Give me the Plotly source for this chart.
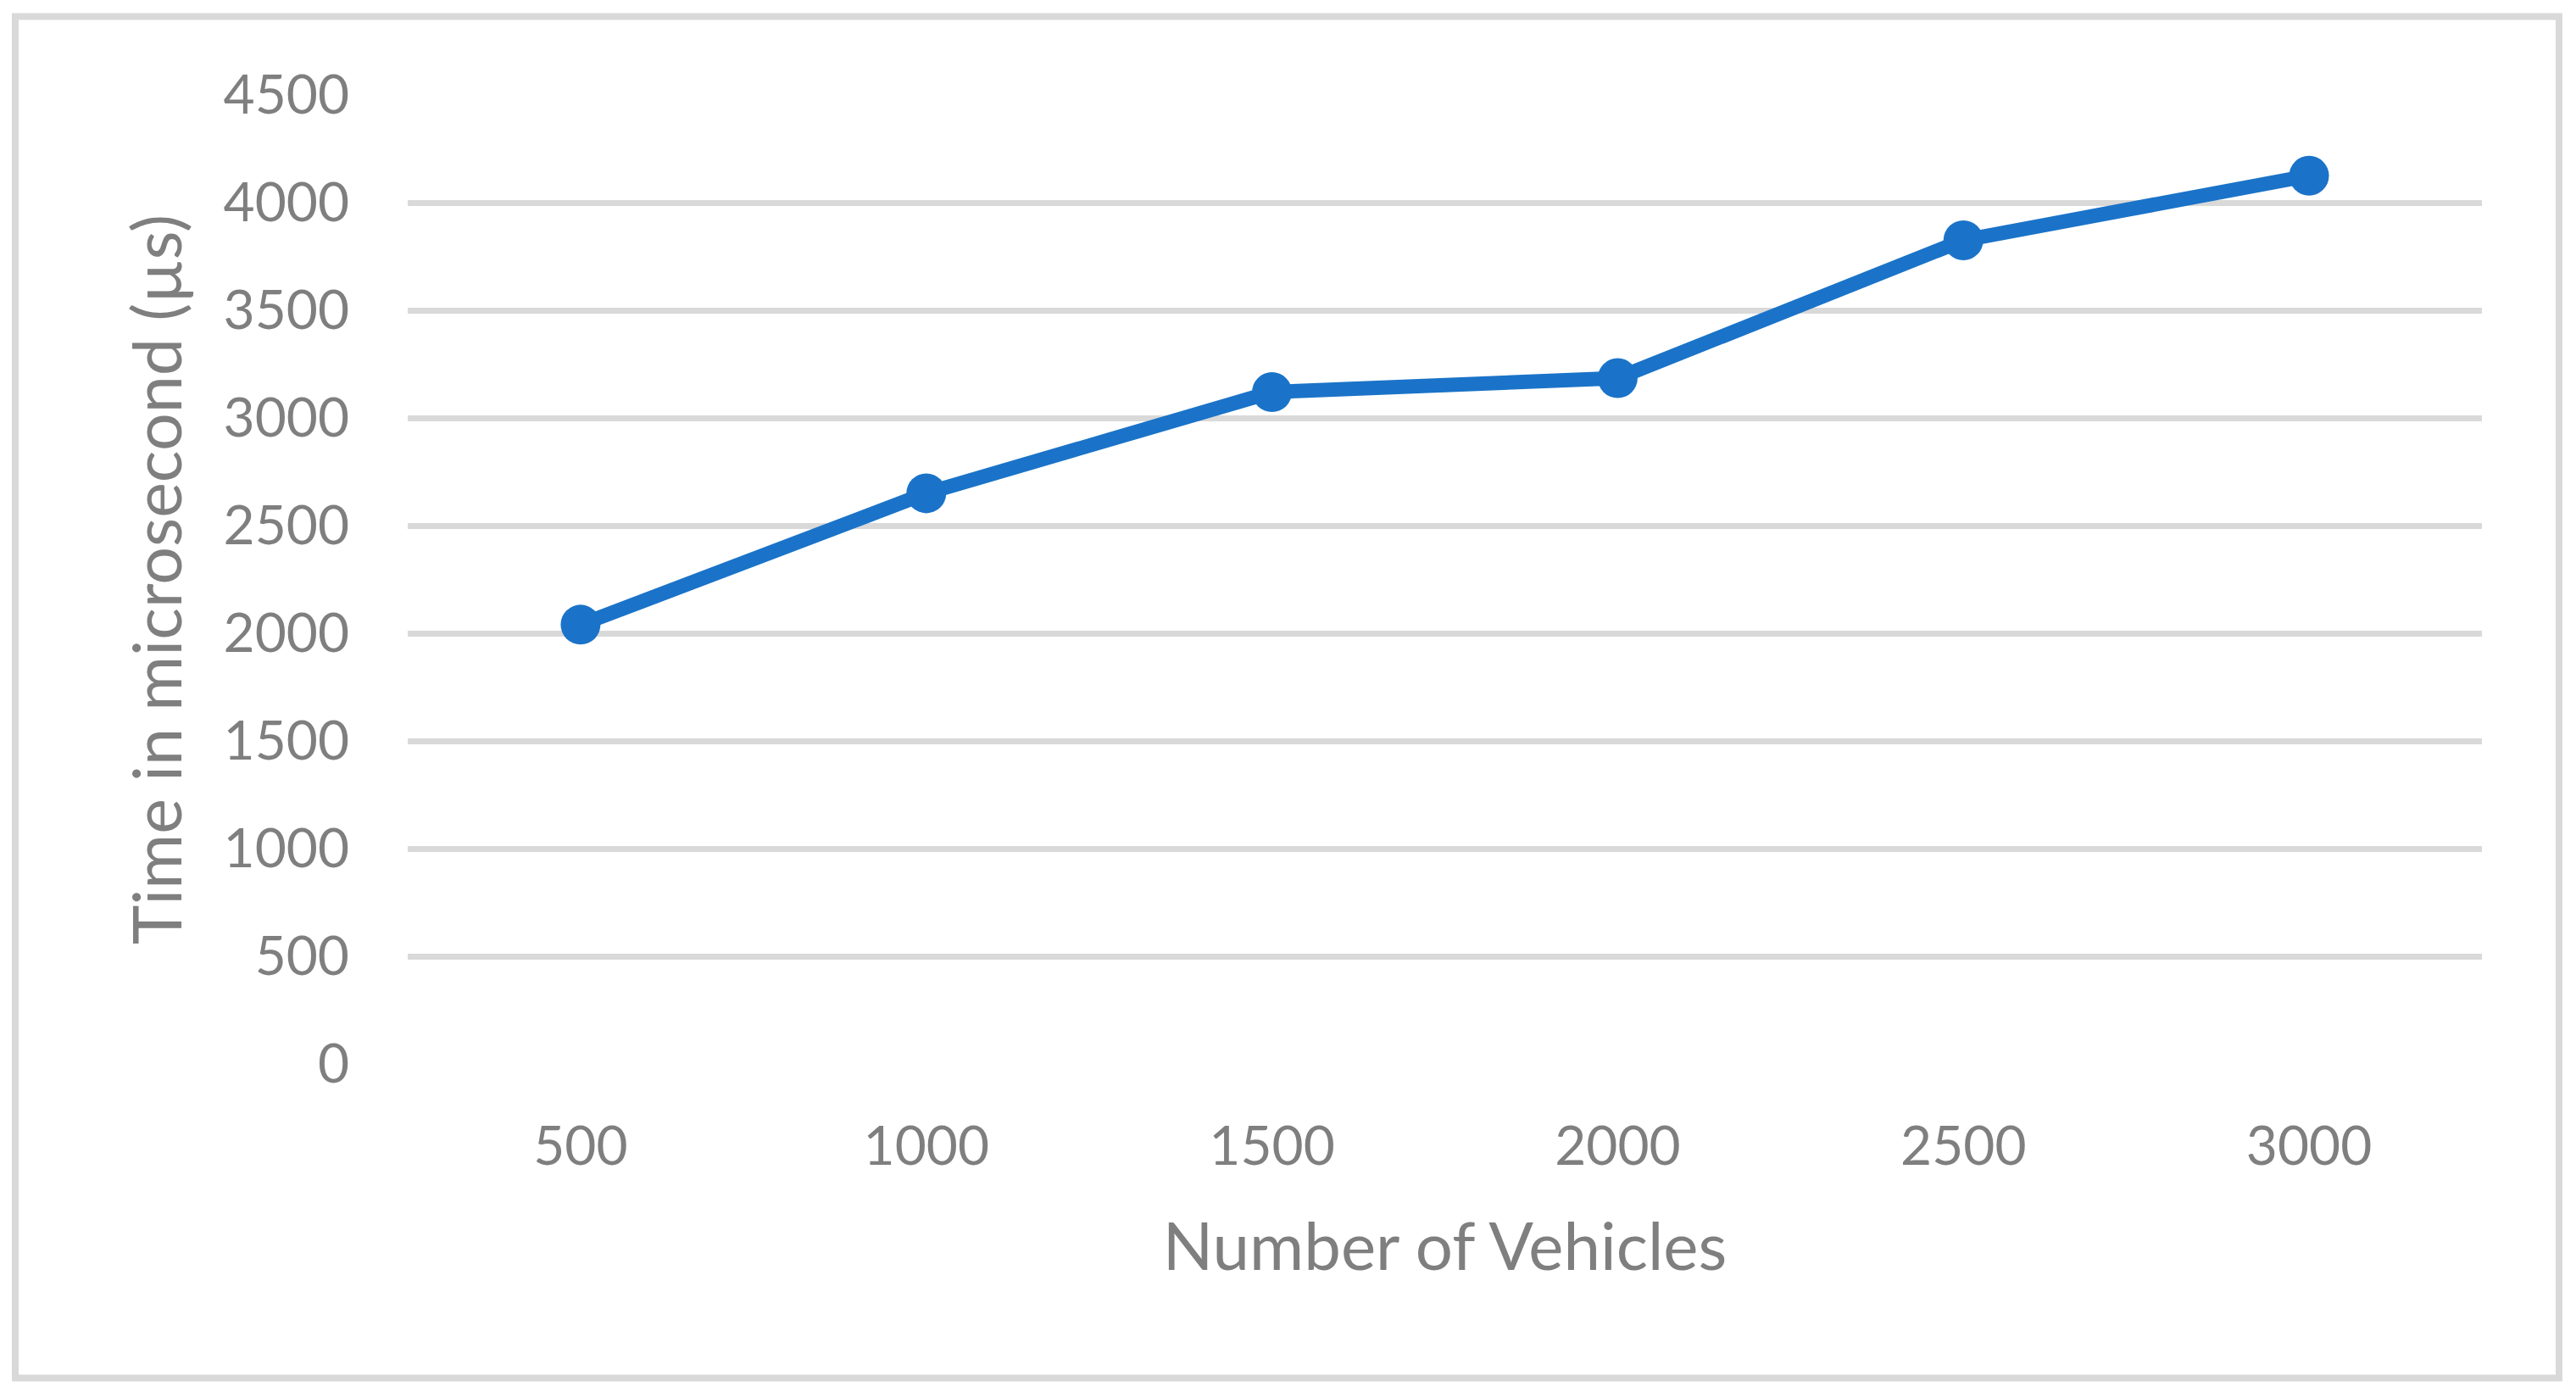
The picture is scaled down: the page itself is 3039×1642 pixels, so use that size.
import plotly.graph_objects as go

vehicles = ["500", "1000", "1500", "2000", "2500", "3000"]
time_us = [2040, 2650, 3120, 3185, 3825, 4125]
y_ticks = [0, 500, 1000, 1500, 2000, 2500, 3000, 3500, 4000, 4500]

OFF = 8  # default page body margin
PAGE_W, PAGE_H = 3039, 1642
W, H = PAGE_W - 2 * OFF, PAGE_H - 2 * OFF
PLOT_L, PLOT_R, PLOT_T, PLOT_B = 481, 2928, 112, 1255  # page pixels
L = PLOT_L - OFF
R = OFF + W - PLOT_R
T = PLOT_T - OFF
B = OFF + H - PLOT_B
pw, ph = W - L - R, H - T - B

def px_to_paper_x(px):
    return (px - PLOT_L) / pw

def px_to_paper_y(py):
    return (PLOT_B - py) / ph

BLUE = "#1A73C8"
GRAY_TXT = "#7F7F7F"
GRID = "#D9D9D9"
FONT = "Lato"

fig = go.Figure()
fig.add_trace(go.Scatter(
    x=vehicles, y=time_us, mode="lines+markers",
    line=dict(color=BLUE, width=17),
    marker=dict(color=BLUE, size=47),
    showlegend=False, cliponaxis=False,
))

fig.update_layout(
    width=W, height=H,
    margin=dict(l=L, r=R, t=T, b=B),
    paper_bgcolor="white", plot_bgcolor="white",
    font=dict(family=FONT, color=GRAY_TXT, size=64),
    xaxis=dict(
        type="category", range=[-0.5, 5.5],
        showgrid=False, zeroline=False, showline=False,
        ticks="", ticklabelstandoff=54,
        tickfont=dict(size=64, color=GRAY_TXT, family=FONT),
        title=dict(text="Number of Vehicles", font=dict(size=78, color=GRAY_TXT, family=FONT), standoff=56),
    ),
    yaxis=dict(
        range=[0, 4500], tickvals=y_ticks, ticktext=[str(v) for v in y_ticks],
        showgrid=True, gridcolor=GRID, gridwidth=7,
        zeroline=False, showline=False, ticks="",
        ticklabelstandoff=68,
        tickfont=dict(size=64, color=GRAY_TXT, family=FONT),
        title=dict(text="Time in microsecond (µs)", font=dict(size=79, color=GRAY_TXT, family=FONT), standoff=22),
    ),
    shapes=[dict(
        type="rect", xref="paper", yref="paper",
        x0=px_to_paper_x(18), x1=px_to_paper_x(3019),
        y0=px_to_paper_y(1625.5), y1=px_to_paper_y(19.5),
        line=dict(color=GRID, width=8), fillcolor="rgba(0,0,0,0)", layer="below",
    )],
)

fig.write_html("out.html")
